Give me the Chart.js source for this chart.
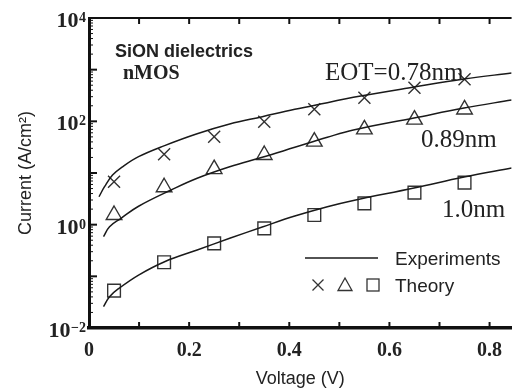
<!DOCTYPE html>
<html><head><meta charset="utf-8">
<script src="https://cdn.jsdelivr.net/npm/chart.js@4/dist/chart.umd.min.js"></script>
<style>html,body{margin:0;padding:0;background:#fff}</style>
</head><body>
<div style="width:522px;height:392px"><canvas id="c" width="522" height="392"></canvas></div>
<script>
// ---- data ----
const voltage   = [0.05, 0.15, 0.25, 0.35, 0.45, 0.55, 0.65, 0.75];
const theory078 = [6.8, 23, 50.5, 98, 171, 287, 448, 652];
const theory089 = [1.54, 5.3, 11.9, 22.3, 40.4, 70, 108, 170];
const theory100 = [0.053, 0.187, 0.435, 0.85, 1.54, 2.59, 4.16, 6.5];

const expV078 = [0.02, 0.031, 0.047, 0.067, 0.099, 0.151, 0.216, 0.281, 0.346, 0.411, 0.476, 0.528, 0.649, 0.749, 0.844];
const exp078  = [3.47, 5.43, 9.12, 13.2, 20.7, 33.9, 57.5, 88.7, 123, 171, 230, 292, 462, 661, 861];
const expV089 = [0.029, 0.041, 0.064, 0.099, 0.164, 0.216, 0.281, 0.346, 0.411, 0.476, 0.528, 0.649, 0.749, 0.844];
const exp089  = [0.586, 0.914, 1.33, 2.27, 4.69, 7.91, 13.2, 20.1, 31.4, 49.1, 67.9, 116, 181, 259];
const expV100 = [0.029, 0.041, 0.06, 0.099, 0.151, 0.216, 0.281, 0.346, 0.411, 0.476, 0.528, 0.649, 0.749, 0.844];
const exp100  = [0.0259, 0.0404, 0.0587, 0.106, 0.192, 0.324, 0.545, 0.902, 1.47, 2.23, 2.95, 5.13, 8.37, 12.5];

const xTickValues = [0, 0.2, 0.4, 0.6, 0.8];
const xTickLabels = ['0', '0.2', '0.4', '0.6', '0.8'];
const xMinorTicks = [0, 0.1, 0.2, 0.3, 0.4, 0.5, 0.6, 0.7, 0.8];
const yTickValues = [0.01, 1, 100, 10000];
const yTickBase   = ['10', '10', '10', '10'];
const yTickExps   = ['\u22122', '0', '2', '4'];
const yDecades    = [0.01, 0.1, 1, 10, 100, 1000, 10000];
const seriesLabels = ['EOT=0.78nm', '0.89nm', '1.0nm'];

const pts = (xs, ys) => xs.map((x, i) => ({x: x, y: ys[i]}));
const INK = '#1a1a1a';

const lineDs = (xs, ys) => ({
  data: pts(xs, ys), borderColor: INK, borderWidth: 1.5, pointRadius: 0,
  tension: 0.4, fill: false
});
const markDs = (ys, style, r) => ({
  data: pts(voltage, ys), showLine: false, pointStyle: style, pointRadius: r,
  pointBorderColor: '#333', pointBackgroundColor: 'rgba(0,0,0,0)', pointBorderWidth: 1.4,
  borderColor: '#333'
});

const decor = {
  id: 'decor',
  afterDraw(chart) {
    const ctx = chart.ctx, a = chart.chartArea;
    const xs = chart.scales.x, ys = chart.scales.y;
    ctx.save();
    ctx.strokeStyle = '#111';
    ctx.lineWidth = 2;
    ctx.beginPath(); ctx.moveTo(a.left, a.top); ctx.lineTo(a.right, a.top); ctx.stroke();
    ctx.lineWidth = 2;
    xMinorTicks.forEach(v => {
      const px = xs.getPixelForValue(v);
      ctx.beginPath(); ctx.moveTo(px, a.bottom); ctx.lineTo(px, a.bottom - 6); ctx.stroke();
      ctx.beginPath(); ctx.moveTo(px, a.top); ctx.lineTo(px, a.top + 6); ctx.stroke();
    });
    yDecades.forEach((d, i) => {
      const py = ys.getPixelForValue(d);
      ctx.lineWidth = 2;
      ctx.beginPath(); ctx.moveTo(a.left, py); ctx.lineTo(a.left + 8, py); ctx.stroke();
      if (i < yDecades.length - 1) {
        ctx.lineWidth = 1;
        for (let m = 2; m <= 9; m++) {
          const q = ys.getPixelForValue(d * m);
          ctx.beginPath(); ctx.moveTo(a.left, q); ctx.lineTo(a.left + 4, q); ctx.stroke();
        }
      }
    });
    ctx.fillStyle = '#222';
    ctx.textBaseline = 'alphabetic';
    yTickValues.forEach((v, i) => {
      const py = ys.getPixelForValue(v);
      const right = a.left - 3;
      ctx.font = 'bold 14px "Liberation Serif", serif';
      ctx.textAlign = 'right';
      ctx.fillText(yTickExps[i], right, py + 4);
      const ew = ctx.measureText(yTickExps[i]).width;
      ctx.font = 'bold 22px "Liberation Serif", serif';
      ctx.fillText(yTickBase[i], right - ew - 0.5, py + 9);
    });
    ctx.textAlign = 'left';
    ctx.font = 'bold 18px "Liberation Sans", Arial, sans-serif';
    ctx.fillText('SiON dielectrics', 115, 57);
    ctx.font = 'bold 20px "Liberation Serif", "Times New Roman", serif';
    ctx.fillText('nMOS', 123, 79);
    ctx.font = '25px "Liberation Serif", "Times New Roman", serif';
    ctx.fillText(seriesLabels[0], 325, 80);
    ctx.fillText(seriesLabels[1], 421, 147);
    ctx.fillText(seriesLabels[2], 442, 217);
    ctx.strokeStyle = INK; ctx.lineWidth = 1.3;
    ctx.beginPath(); ctx.moveTo(305, 258); ctx.lineTo(378, 258); ctx.stroke();
    ctx.font = '19px "Liberation Sans", Arial, sans-serif';
    ctx.fillText('Experiments', 395, 265);
    ctx.fillText('Theory', 395, 292);
    ctx.strokeStyle = '#333'; ctx.lineWidth = 1.3;
    let cx = 318, cy = 285, h = 5.5;
    ctx.beginPath(); ctx.moveTo(cx - h, cy - h); ctx.lineTo(cx + h, cy + h);
    ctx.moveTo(cx + h, cy - h); ctx.lineTo(cx - h, cy + h); ctx.stroke();
    cx = 345; ctx.beginPath(); ctx.moveTo(cx, cy - 7); ctx.lineTo(cx + 7, cy + 5.5); ctx.lineTo(cx - 7, cy + 5.5); ctx.closePath(); ctx.stroke();
    cx = 373; ctx.strokeRect(cx - 6, cy - 6, 12, 12);
    ctx.restore();
  }
};

new Chart(document.getElementById('c'), {
  type: 'line',
  data: {
    datasets: [
      lineDs(expV078, exp078), lineDs(expV089, exp089), lineDs(expV100, exp100),
      markDs(theory078, 'crossRot', 8.5), markDs(theory089, 'triangle', 9), markDs(theory100, 'rect', 9)
    ]
  },
  options: {
    responsive: false, animation: false,
    layout: {padding: {top: 18, right: 0, left: 0, bottom: 0}},
    plugins: {legend: {display: false}, tooltip: {enabled: false}},
    scales: {
      x: {
        type: 'linear', min: 0, max: 0.844,
        afterFit: s => { s.height = 64; },
        afterBuildTicks: s => { s.ticks = xTickValues.map(v => ({value: v})); },
        grid: {display: false, drawTicks: false},
        border: {display: true, color: '#111', width: 3.5},
        ticks: {
          padding: 11, color: '#222', maxRotation: 0, autoSkip: false,
          font: {family: '"Liberation Serif", serif', size: 20, weight: 'bold'},
          callback: (v, i) => xTickLabels[i]
        },
        title: {display: true, text: 'Voltage (V)', color: '#222',
          font: {family: '"Liberation Sans", Arial, sans-serif', size: 18}, padding: {top: 0, bottom: 2}}
      },
      y: {
        type: 'logarithmic', min: 0.01, max: 10000,
        afterFit: s => { s.width = 89; },
        afterBuildTicks: s => { s.ticks = yTickValues.map(v => ({value: v})); },
        grid: {display: false, drawTicks: false},
        border: {display: true, color: '#111', width: 3},
        ticks: {display: false},
        title: {display: true, text: 'Current (A/cm\u00B2)', color: '#222',
          font: {family: '"Liberation Sans", Arial, sans-serif', size: 18}, padding: {top: 15, bottom: 0}}
      }
    }
  },
  plugins: [decor]
});
</script>
</body></html>
